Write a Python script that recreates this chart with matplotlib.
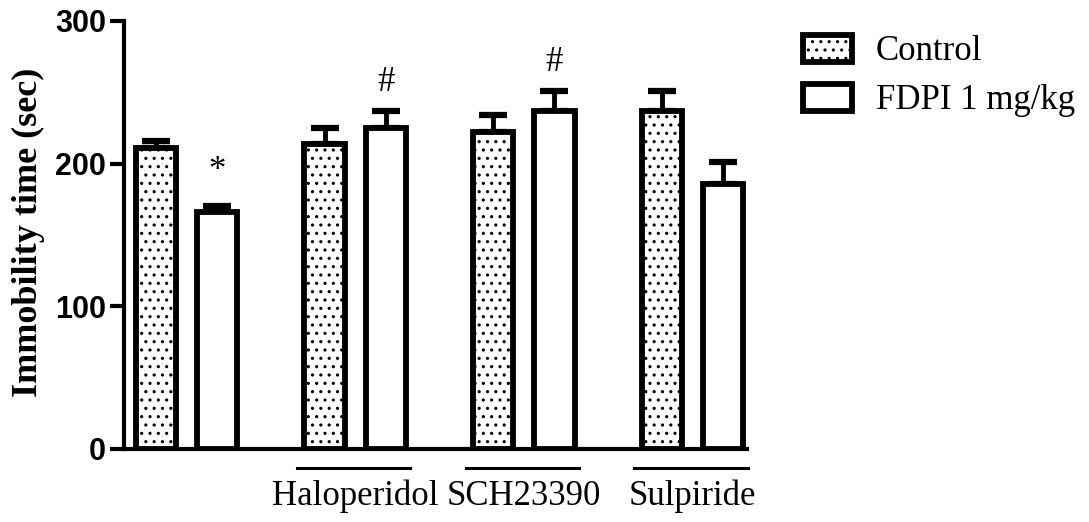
import matplotlib
matplotlib.use('Agg')
import matplotlib.pyplot as plt
import matplotlib.patches as patches
from matplotlib.lines import Line2D

# data
groups = ['', 'Haloperidol', 'SCH23390', 'Sulpiride']
series = ['Control', 'FDPI 1 mg/kg']
control_mean = [211, 214, 222, 237]
control_err = [5, 11, 12, 14]
fdpi_mean = [166, 225, 237, 186]
fdpi_err = [4, 12, 14, 15]
marks = ['*', '#', '#', '']

plt.rcParams['hatch.linewidth'] = 1.1
plt.rcParams['hatch.color'] = 'black'

fig = plt.figure(figsize=(10.89, 5.22), dpi=100)
ax = fig.add_axes([124 / 1089, 1 - 449 / 522, (747 - 124) / 1089, (449 - 21) / 522])

pitch = 2.75
width = 0.66
centers = [i * pitch for i in range(len(groups))]
x_ctrl = [c - 0.5 for c in centers]
x_fdpi = [c + 0.5 for c in centers]

ax.bar(x_ctrl, control_mean, width=width, facecolor='white', edgecolor='black',
       linewidth=4.2, hatch='..', zorder=3, label=series[0])
ax.bar(x_fdpi, fdpi_mean, width=width, facecolor='white', edgecolor='black',
       linewidth=4.2, zorder=3, label=series[1])

for xs, m, e in [(x_ctrl, control_mean, control_err), (x_fdpi, fdpi_mean, fdpi_err)]:
    ax.errorbar(xs, m, yerr=[[0] * len(m), e], fmt='none', ecolor='black',
                elinewidth=3.5, capsize=10, capthick=4.5, zorder=2)

for xs, m, e, s in zip(x_fdpi, fdpi_mean, fdpi_err, marks):
    if s:
        off = 13 if s == '*' else 8
        ax.text(xs, m + e + off, s, ha='center', va='bottom',
                fontsize=25, family='Liberation Serif')

ax.set_xlim(-1.02, centers[-1] + 0.89)
ax.set_ylim(0, 300)
ax.set_yticks([0, 100, 200, 300])
ax.set_xticks([])
for sp in ['top', 'right']:
    ax.spines[sp].set_visible(False)
ax.spines['left'].set_linewidth(3)
ax.spines['bottom'].set_linewidth(3)
ax.spines['left'].set_capstyle('projecting')
ax.tick_params(axis='y', length=10, width=3, direction='out', pad=3)
for lbl in ax.get_yticklabels():
    lbl.set_fontsize(22)
    lbl.set_fontweight('bold')
    lbl.set_family('Liberation Sans')

trans = ax.get_xaxis_transform()
for c, name in zip(centers, groups):
    if not name:
        continue
    ax.add_line(Line2D([c - 0.95, c + 0.9], [-0.044, -0.044], transform=trans,
                       color='black', linewidth=2.2, clip_on=False))
    ax.text(c, -0.11, name, transform=trans, ha='center', va='center',
            fontsize=25, family='Liberation Serif')

fig.text(28 / 1089, 1 - 232 / 522, 'Immobility time (sec)', rotation=90,
         ha='center', va='center', fontsize=26, fontweight='bold',
         family='Liberation Serif')

handles = [
    patches.Patch(facecolor='white', edgecolor='black', hatch='..', linewidth=4.2, label=series[0]),
    patches.Patch(facecolor='white', edgecolor='black', linewidth=4.2, label=series[1]),
]
fig.legend(handles=handles, loc='upper left', bbox_to_anchor=(803 / 1089, 1 - 35 / 522),
           frameon=False, prop={'family': 'Liberation Serif', 'size': 25},
           handlelength=1.4, handleheight=0.8, handletextpad=0.7, labelspacing=0.45,
           borderaxespad=0, borderpad=0)

fig.savefig('out.png', dpi=100)
